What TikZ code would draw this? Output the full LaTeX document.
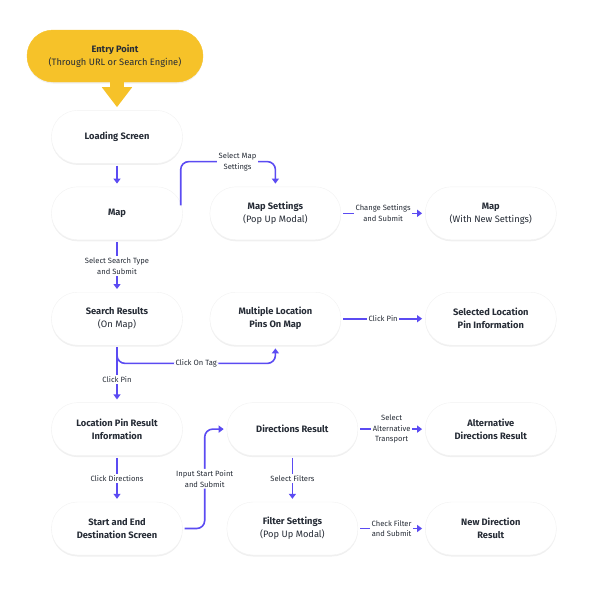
\documentclass[tikz,border=0pt]{standalone}
\usepackage{fontspec}
\setmainfont{Fira Sans}
\usetikzlibrary{arrows.meta, positioning, calc, shadows}
\definecolor{entryYellow}{HTML}{F6C229}
\definecolor{flowPurple}{HTML}{5B4BF2}
\definecolor{inkDark}{HTML}{262C36}

\begin{document}
\begin{tikzpicture}[
    node distance=23pt and 27pt,
    box/.style={fill=white, draw=black!5, rounded corners=26pt, minimum width=131pt, minimum height=53pt, align=center, inner sep=2pt, text=inkDark, font=\fontsize{9.3}{13}\selectfont, drop shadow={opacity=0.12, shadow xshift=0pt, shadow yshift=-1.5pt}},
    entry/.style={box, fill=entryYellow, draw=entryYellow, minimum width=176pt, minimum height=52pt},
    flow/.style={-{Triangle[width=7pt,length=5pt]}, line width=1.6pt, flowPurple, shorten >=3pt, shorten <=2pt},
    lbl/.style={fill=white, inner sep=1.5pt, text=inkDark, font=\fontsize{7.6}{10.8}\selectfont, align=center}
  ]
  \useasboundingbox (0,0) rectangle (600pt,-590pt);

  % Entry and left column
  \node[entry] (entry) at (115pt,-56pt) {\textbf{Entry Point}\\(Through URL or Search Engine)};
  \node[box, below=28pt of entry, xshift=2pt] (loading) {\textbf{Loading Screen}};
  \node[box, below=of loading] (map) {\textbf{Map}};
  \node[box, below=52pt of map] (search) {\textbf{Search Results}\\(On Map)};
  \node[box, below=57pt of search] (locpin) {\textbf{Location Pin Result}\\\textbf{Information}};
  \node[box, below=46pt of locpin] (startend) {\textbf{Start and End}\\\textbf{Destination Screen}};

  % Middle column
  \node[box, right=of map] (mapset) {\textbf{Map Settings}\\(Pop Up Modal)};
  \node[box, right=of search] (multi) {\textbf{Multiple Location}\\\textbf{Pins On Map}};
  \node[box, right=44pt of locpin] (dirres) {\textbf{Directions Result}};
  \node[box, right=44pt of startend] (filterset) {\textbf{Filter Settings}\\(Pop Up Modal)};

  % Right column
  \node[box, right=84pt of mapset] (mapnew) {\textbf{Map}\\(With New Settings)};
  \node[box, right=84pt of multi] (selected) {\textbf{Selected Location}\\\textbf{Pin Information}};
  \node[box, right=67pt of dirres] (altdir) {\textbf{Alternative}\\\textbf{Directions Result}};
  \node[box, right=67pt of filterset] (newdir) {\textbf{New Direction}\\\textbf{Result}};

  % Entry arrow
  \draw[-{Triangle[width=29pt,length=20pt]}, line width=14pt, entryYellow, shorten >=3pt] (loading.north |- entry.south) -- (loading.north);

  % Flows
  \draw[flow] (loading) -- (map);
  \coordinate (mapout) at ([xshift=-2pt, yshift=8pt]map.east);
  \draw[flow, rounded corners=8pt, shorten <=0pt] (mapout) |- node[lbl, pos=0.8] {Select Map\\Settings} ([yshift=25pt]mapset.north) -- (mapset.north);
  \draw[flow] (mapset) -- node[lbl] {Change Settings\\and Submit} (mapnew);
  \draw[flow] (map) -- node[lbl] {Select Search Type\\and Submit} (search);
  \draw[flow, rounded corners=8pt] (search.south) |- node[lbl, pos=0.75] {Click On Tag} ([yshift=-18pt]multi.south) -- (multi.south);
  \draw[flow] (search) -- node[lbl, pos=0.6] {Click Pin} (locpin);
  \draw[flow] (multi) -- node[lbl] {Click Pin} (selected);
  \draw[flow] (locpin) -- node[lbl] {Click Directions} (startend);
  \coordinate (jmid) at ($(startend.east)!0.5!(dirres.west)$);
  \draw[flow, rounded corners=8pt] (startend.east) -| (jmid) node[lbl] {Input Start Point\\and Submit} |- (dirres.west);
  \draw[flow] (dirres) -- node[lbl] {Select Filters} (filterset);
  \draw[flow] (dirres) -- node[lbl] {Select\\Alternative\\Transport} (altdir);
  \draw[flow] (filterset) -- node[lbl] {Check Filter\\and Submit} (newdir);

\end{tikzpicture}
\end{document}
